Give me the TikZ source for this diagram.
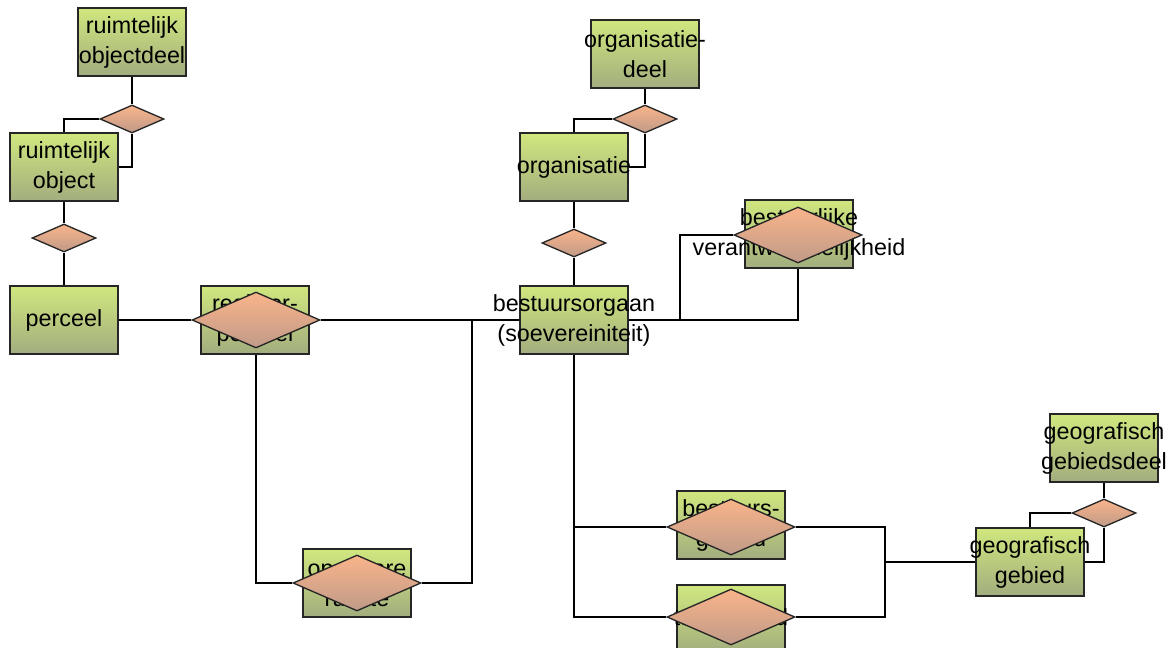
\documentclass[tikz,border=0pt]{standalone}
\usepackage{fontspec}
\setmainfont{Liberation Sans}
\usepackage{xcolor}
\usetikzlibrary{positioning,shapes,backgrounds}
\definecolor{groenboven}{HTML}{D0E77E}
\definecolor{groenonder}{HTML}{A2AD7E}
\definecolor{oranjeboven}{HTML}{F9B48A}
\definecolor{oranjeonder}{HTML}{C09A88}
\tikzstyle{entiteit}=[rectangle, draw=black!85, line width=1pt, top color=groenboven,
        bottom color=groenonder, minimum width=81pt, minimum height=51pt, inner sep=0pt]
\tikzstyle{relatie}=[diamond, draw=black!85, line width=1pt, top color=oranjeboven,
        bottom color=oranjeonder, minimum width=48pt, minimum height=21pt, inner sep=0pt]
\tikzstyle{grootrelatie}=[relatie, minimum width=96pt, minimum height=42pt]
\tikzstyle{tekst}=[align=center, inner sep=0pt, font=\fontsize{17.5}{22.5}\selectfont]
\tikzstyle{lijn}=[draw=black, line width=1pt]

\begin{document}
\begin{tikzpicture}[x=0.75pt, y=-0.75pt]
        \useasboundingbox (0,0) rectangle (1170,647);
        % entiteiten
        \node (rod) [entiteit, label={[tekst]center:ruimtelijk\\objectdeel}] at (132,42) {};
        \node (ro) [entiteit, label={[tekst]center:ruimtelijk\\object}] at (64,167) {};
        \node (perceel) [entiteit, label={[tekst]center:perceel}] at (64,320) {};
        \node (rp) [entiteit, label={[tekst]center:register-\\perceel}] at (255,320) {};
        \node (obr) [entiteit, label={[tekst]center:openbare\\ruimte}] at (357,583) {};
        \node (orgdeel) [entiteit, label={[tekst]center:organisatie-\\deel}] at (645,54) {};
        \node (org) [entiteit, label={[tekst]center:organisatie}] at (574,167) {};
        \node (bo) [entiteit, label={[tekst]center:bestuursorgaan\\(soevereiniteit)}] at (574,320) {};
        \node (bv) [entiteit, label={[tekst]center:bestuurlijke\\verantwoordelijkheid}] at (799,234) {};
        \node (bg) [entiteit, label={[tekst]center:bestuurs-\\gebied}] at (731,525) {};
        \node (tg) [entiteit, label={[tekst]center:taakgebied}] at (731,619) {};
        \node (gg) [entiteit, label={[tekst]center:geografisch\\gebied}] at (1030,562) {};
        \node (ggd) [entiteit, label={[tekst]center:geografisch\\gebiedsdeel}] at (1104,448) {};
        % relaties
        \node (rel1) [relatie] at (132,119) {};
        \node (rel2) [relatie] at (64,238) {};
        \node (rel3) [relatie] at (645,119) {};
        \node (rel4) [relatie] at (574,243) {};
        \node (rel5) [relatie] at (1104,513) {};
        \node (rpdia) [grootrelatie] at (256,320) {};
        \node (obrdia) [grootrelatie] at (357,583) {};
        \node (bvdia) [grootrelatie] at (798,235) {};
        \node (bgdia) [grootrelatie] at (731,527) {};
        \node (tgdia) [grootrelatie] at (731,617) {};
        \coordinate (knik1) at (472,320);
        \coordinate (knik2) at (680,320);
        \coordinate (knik3) at (885,562);
        \begin{scope}[on background layer]
        \draw [lijn] (rod.south) -- (rel1.north);
        \draw [lijn] (rel1.west) -| (ro.north);
        \draw [lijn] (rel1.south) |- (ro.east);
        \draw [lijn] (ro.south) -- (rel2.north);
        \draw [lijn] (rel2.south) -- (perceel.north);
        \draw [lijn] (perceel.east) -- (rpdia.west);
        \draw [lijn] (rpdia.east) -- (bo.west);
        \draw [lijn] (rpdia.south) |- (obrdia.west);
        \draw [lijn] (obrdia.east) -| (knik1);
        \draw [lijn] (orgdeel.south) -- (rel3.north);
        \draw [lijn] (rel3.west) -| (org.north);
        \draw [lijn] (rel3.south) |- (org.east);
        \draw [lijn] (org.south) -- (rel4.north);
        \draw [lijn] (rel4.south) -- (bo.north);
        \draw [lijn] (bo.east) -| (bvdia.south);
        \draw [lijn] (bvdia.west) -| (knik2);
        \draw [lijn] (bo.south) |- (bgdia.west);
        \draw [lijn] (bo.south) |- (tgdia.west);
        \draw [lijn] (bgdia.east) -| (knik3);
        \draw [lijn] (tgdia.east) -| (knik3);
        \draw [lijn] (knik3) -- (gg.west);
        \draw [lijn] (ggd.south) -- (rel5.north);
        \draw [lijn] (rel5.west) -| (gg.north);
        \draw [lijn] (rel5.south) |- (gg.east);
        \end{scope}
\end{tikzpicture}
\end{document}
